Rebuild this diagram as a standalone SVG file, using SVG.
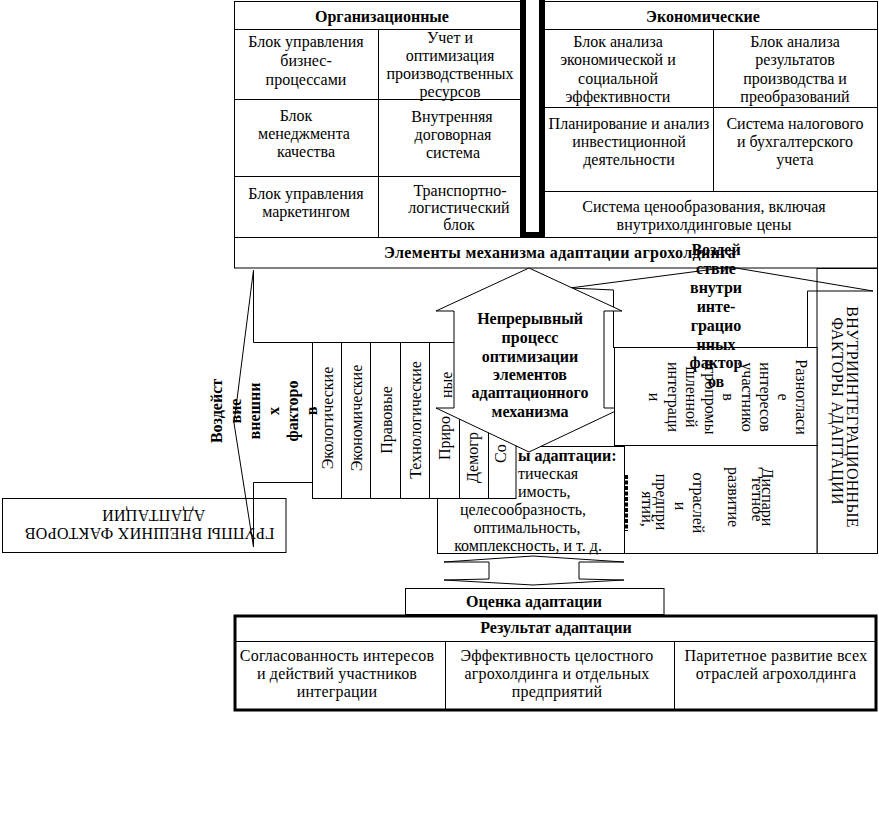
<svg xmlns="http://www.w3.org/2000/svg" width="879" height="835" viewBox="0 0 879 835">
<style>
text{font-family:"Liberation Serif","Times New Roman",serif;font-size:16px;fill:#000}
.b{font-weight:bold}
.m{text-anchor:middle}
.ln{stroke:#000;stroke-width:1;fill:none}
.wb{fill:#fff;stroke:#000;stroke-width:1}
.nb{fill:none;stroke:#000;stroke-width:1}
</style>
<rect width="879" height="835" fill="#fff"/>

<g id="top-table">
<rect class="nb" x="234.5" y="1.5" width="643" height="266.5"/>
<path class="ln" d="M234 29.5H521M545 29.5H878M234 99.5H521M234 176.5H521M545 107.5H878M545 191.5H878M234 237.5H878M378.5 29.5V237.5M713.5 29.5V191.5"/>
</g>
<g id="bar"><rect x="523" y="-4" width="19" height="239" fill="#fff" stroke="#000" stroke-width="6"/></g>

<g id="org">
<text class="b m" x="382" y="21.5">Организационные</text>
<text class="m" x="306" y="46.5">Блок управления</text>
<text class="m" x="306" y="65.5">бизнес-</text>
<text class="m" x="306" y="84.5">процессами</text>
<text class="m" x="450" y="43">Учет и</text>
<text class="m" x="450" y="61">оптимизация</text>
<text class="m" x="450" y="79">производственных</text>
<text class="m" x="450" y="96.5">ресурсов</text>
<text class="m" x="296" y="121">Блок</text>
<text class="m" x="304" y="139">менеджмента</text>
<text class="m" x="306" y="157">качества</text>
<text class="m" x="452" y="121.5">Внутренняя</text>
<text class="m" x="453" y="139.5">договорная</text>
<text class="m" x="453" y="157.5">система</text>
<text class="m" x="306" y="199">Блок управления</text>
<text class="m" x="306" y="217">маркетингом</text>
<text class="m" x="460" y="195.5">Транспортно-</text>
<text class="m" x="459" y="212.5">логистический</text>
<text class="m" x="459" y="230">блок</text>
</g>

<g id="econ">
<text class="b m" x="703" y="21.5">Экономические</text>
<text class="m" x="618" y="47">Блок анализа</text>
<text class="m" x="618" y="65">экономической и</text>
<text class="m" x="618" y="83.5">социальной</text>
<text class="m" x="618" y="102">эффективности</text>
<text class="m" x="795" y="47">Блок анализа</text>
<text class="m" x="795" y="65">результатов</text>
<text class="m" x="795" y="83.5">производства и</text>
<text class="m" x="795" y="102">преобразований</text>
<text class="m" x="629" y="129">Планирование и анализ</text>
<text class="m" x="629" y="147">инвестиционной</text>
<text class="m" x="629" y="165">деятельности</text>
<text class="m" x="795" y="129">Система налогового</text>
<text class="m" x="795" y="147">и бухгалтерского</text>
<text class="m" x="795" y="165">учета</text>
<text class="m" x="704" y="211.5">Система ценообразования, включая</text>
<text class="m" x="704" y="229.5">внутрихолдинговые цены</text>
</g>

<g id="elements">
<text class="b m" x="560" y="257.5" letter-spacing="0.35">Элементы механизма адаптации агрохолдинга</text>
</g>

<g id="ext-groups">
<rect class="wb" x="2.5" y="498.5" width="283.5" height="54"/>
<g transform="rotate(180 150 524)">
<text class="m" x="150.5" y="520" letter-spacing="0.3">ГРУППЫ ВНЕШНИХ ФАКТОРОВ</text>
<text class="m" x="146.5" y="538" letter-spacing="0.3">АДАПТАЦИИ</text>
</g>
</g>

<g id="int-groups">
<rect class="wb" x="817" y="268.5" width="60.5" height="285"/>
<text class="m" transform="translate(846.5,417) rotate(90)" letter-spacing="0.3">ВНУТРИИНТЕГРАЦИОННЫЕ</text>
<text class="m" transform="translate(831.5,411) rotate(90)" letter-spacing="0.3">ФАКТОРЫ АДАПТАЦИИ</text>
</g>

<g id="connectors">
<path id="ext-impact" class="nb" d="M312 342.5H253.5V270L234 423L253.5 547V482.5H312"/>
<path id="int-impact" class="nb" d="M613.5 348V290L570 288L730 267L873 291H807.5V348"/>
<polygon id="eval-arrow" class="wb" points="533,556 444,562 489,562 489,579 444,580 533,585 624,580 579,579 579,562 624,562"/>
</g>

<g id="criteria">
<rect class="wb" x="437.5" y="446.5" width="187" height="107"/>
<text class="b" x="518" y="461">ы адаптации:</text>
<text x="518" y="479">тическая</text>
<text x="518" y="497">имость,</text>
<text class="m" x="523" y="515">целесообразность,</text>
<text class="m" x="527" y="533">оптимальность,</text>
<text class="m" x="528" y="551">комплексность, и т. д.</text>
</g>

<g id="ext-factors">
<rect class="wb" x="312.5" y="342.5" width="203.5" height="156"/>
<path class="ln" d="M341.5 342.5V498.5M370.5 342.5V498.5M400.5 342.5V498.5M429.5 342.5V498.5M459.5 342.5V498.5M488.5 342.5V498.5"/>
<text class="m" transform="translate(333,418) rotate(-90)">Экологические</text>
<text class="m" transform="translate(362,418) rotate(-90)">Экономические</text>
<text class="m" transform="translate(392,420) rotate(-90)">Правовые</text>
<text class="m" transform="translate(421,420) rotate(-90)">Технологические</text>
<text transform="translate(450,460) rotate(-90)">Приро</text>
<text transform="translate(452,398) rotate(-90)">ные</text>
<text transform="translate(478,483) rotate(-90)">Демогр</text>
<text transform="translate(506,463) rotate(-90)">Со</text>
</g>

<g id="process">
<polygon class="wb" points="529,268 436,311 454,311 454,408 436,408 529,452 622,408 604,408 604,311 622,311"/>
<text class="b m" x="530" y="324">Непрерывный</text>
<text class="b m" x="530" y="343">процесс</text>
<text class="b m" x="530" y="362">оптимизации</text>
<text class="b m" x="530" y="380">элементов</text>
<text class="b m" x="530" y="398">адаптационного</text>
<text class="b m" x="530" y="417">механизма</text>
</g>

<g id="disagreement">
<rect class="wb" x="614.5" y="347.5" width="202.5" height="98"/>
<text class="m" transform="translate(796,397) rotate(90)">Разногласи</text>
<text class="m" transform="translate(778,397) rotate(90)">е</text>
<text class="m" transform="translate(760,397) rotate(90)">интересов</text>
<text class="m" transform="translate(741.5,397) rotate(90)">участнико</text>
<text class="m" transform="translate(723,397) rotate(90)">в</text>
<text class="m" transform="translate(704.5,397) rotate(90)">агропромы</text>
<text class="m" transform="translate(686,397) rotate(90)">шленной</text>
<text class="m" transform="translate(667.5,397) rotate(90)">интеграци</text>
<text class="m" transform="translate(649,397) rotate(90)">и</text>
</g>

<g id="disparity">
<rect class="wb" x="624.5" y="445.5" width="192.5" height="108"/>
<text class="m" transform="translate(762,497) rotate(90)">Диспари</text>
<text class="m" transform="translate(752,499) rotate(90)">тетное</text>
<text class="m" transform="translate(728,497) rotate(90)">развитие</text>
<text class="m" transform="translate(693,503) rotate(90)">отраслей</text>
<text class="m" transform="translate(675,506) rotate(90)">и</text>
<text class="m" transform="translate(656,502) rotate(90)">предпри</text>
<text class="m" transform="translate(642,509) rotate(90)">ятий,</text>
<line x1="626.5" y1="475" x2="626.5" y2="531" stroke="#000" stroke-width="3" stroke-dasharray="4 1.5"/>
</g>

<g id="ext-impact-label">
<text class="b m" transform="translate(222,411) rotate(-90)">Воздейст</text>
<text class="b m" transform="translate(241,411) rotate(-90)">вие</text>
<text class="b m" transform="translate(260,411) rotate(-90)">внешни</text>
<text class="b m" transform="translate(279,411) rotate(-90)">х</text>
<text class="b m" transform="translate(298,411) rotate(-90)">факторо</text>
<text class="b m" transform="translate(317,411) rotate(-90)">в</text>
</g>

<g id="int-impact-label">
<text class="b m" x="716" y="255">Воздей</text>
<text class="b m" x="716" y="274">ствие</text>
<text class="b m" x="716" y="293">внутри</text>
<text class="b m" x="716" y="312">инте-</text>
<text class="b m" x="716" y="331">грацио</text>
<text class="b m" x="716" y="350">нных</text>
<text class="b m" x="716" y="368">фактор</text>
<text class="b m" x="716" y="387">ов</text>
</g>

<g id="evaluation">
<rect class="wb" x="405.5" y="588.5" width="258.5" height="26"/>
<text class="b m" x="534" y="607">Оценка адаптации</text>
</g>

<g id="result">
<rect x="235" y="616" width="641" height="94" fill="#fff" stroke="#000" stroke-width="3"/>
<path class="ln" d="M236 641.5H875M445.5 641.5V709M674.5 641.5V709"/>
<text class="b m" x="556" y="633">Результат адаптации</text>
<text class="m" x="337" y="661" letter-spacing="0.2">Согласованность интересов</text>
<text class="m" x="337" y="679" letter-spacing="0.2">и действий участников</text>
<text class="m" x="337" y="697" letter-spacing="0.2">интеграции</text>
<text class="m" x="557" y="661" letter-spacing="0.2">Эффективность целостного</text>
<text class="m" x="557" y="679" letter-spacing="0.2">агрохолдинга и отдельных</text>
<text class="m" x="557" y="697" letter-spacing="0.2">предприятий</text>
<text class="m" x="776" y="661" letter-spacing="0.2">Паритетное развитие всех</text>
<text class="m" x="776" y="679" letter-spacing="0.2">отраслей агрохолдинга</text>
</g>
</svg>
